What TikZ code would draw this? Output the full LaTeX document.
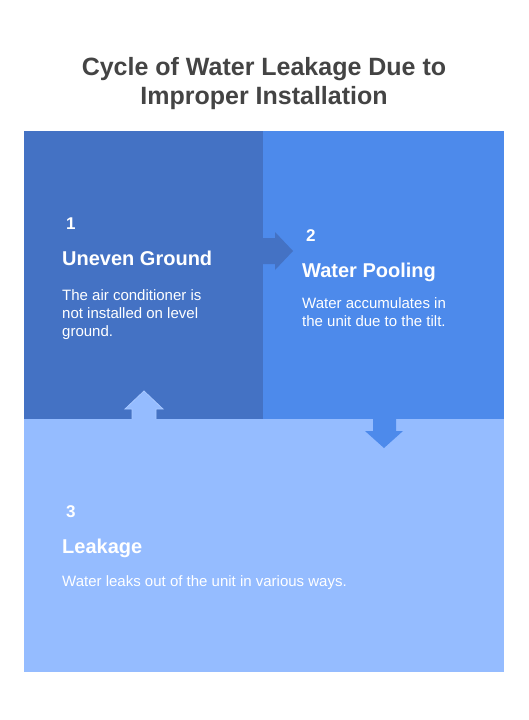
\documentclass[tikz,border=0pt]{standalone}
\usepackage{fontspec}
\setmainfont{Liberation Sans}
\definecolor{cA}{HTML}{4472C4}
\definecolor{cB}{HTML}{4D8AEB}
\definecolor{cC}{HTML}{95BCFF}
\definecolor{cCedge}{HTML}{A8C8FF}
\definecolor{titlec}{HTML}{444444}
\begin{document}
\begin{tikzpicture}[x=1pt,y=-1pt,
  box/.style={draw=none,inner sep=0pt,outer sep=0pt,anchor=north west},
  num/.style={anchor=base west,inner sep=0pt,text=white,font=\fontsize{17}{20}\selectfont\bfseries},
  head/.style={anchor=base west,inner sep=0pt,text=white,font=\fontsize{20}{24}\selectfont\bfseries},
  desc/.style={anchor=base west,inner sep=0pt,text=white,font=\fontsize{15}{18}\selectfont,align=left},
  ttl/.style={anchor=base,inner sep=0pt,text=titlec,font=\fontsize{25}{29}\selectfont\bfseries}]
\useasboundingbox (0,0) rectangle (528,720);
\fill[white] (0,0) rectangle (528,720);
% boxes
\node[box,fill=cA,minimum width=239pt,minimum height=288pt] (b1) at (24,131) {};
\node[box,fill=cB,minimum width=241pt,minimum height=288pt] (b2) at (263,131) {};
\node[box,fill=cC,minimum width=480pt,minimum height=253pt] (b3) at (24,419) {};
% arrows
\fill[cA] (b1.east |- 0,238) -- (275,238) -- (275,232) -- (293,251) -- (275,270) -- (275,264) -- (b1.east |- 0,264) -- cycle;
\fill[cB] (373,415) -- (373,431) -- (365,431) -- (384,448) -- (403,431) -- (396,431) -- (396,415) -- cycle;
\filldraw[fill=cC,draw=cCedge,line width=0.8pt] (132,419) -- (132,409) -- (125,409) -- (144,391) -- (163,409) -- (156,409) -- (156,419);
\fill[cC] (132.4,418.5) rectangle (155.6,423);
% title
\node[ttl] (t1) at (264,75) {Cycle of Water Leakage Due to};
\node[ttl] (t2) at (264,104) {Improper Installation};
% box 1 text
\node[num] (n1) at (66,229) {1};
\node[head] (h1) at (62,265) {Uneven Ground};
\node[desc] (d1a) at (62,300) {The air conditioner is};
\node[desc] (d1b) at (62,318) {not installed on level};
\node[desc] (d1c) at (62,336) {ground.};
% box 2 text
\node[num] (n2) at (306,241) {2};
\node[head] (h2) at (302,277) {Water Pooling};
\node[desc] (d2a) at (302,308) {Water accumulates in};
\node[desc] (d2b) at (302,326) {the unit due to the tilt.};
% box 3 text
\node[num] (n3) at (66,517) {3};
\node[head] (h3) at (62,553) {Leakage};
\node[desc] (d3a) at (62,586) {Water leaks out of the unit in various ways.};
\end{tikzpicture}
\end{document}
